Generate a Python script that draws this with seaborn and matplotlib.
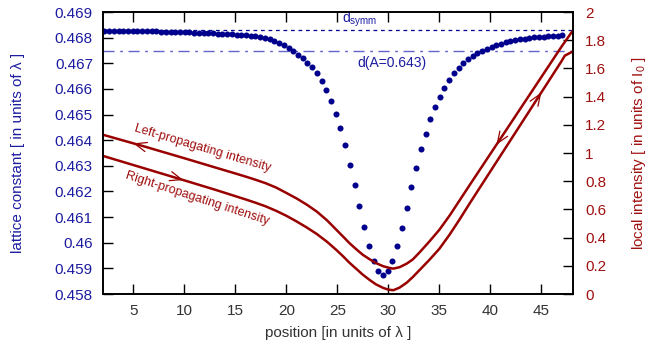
import numpy as np
import pandas as pd
import matplotlib
matplotlib.use("Agg")
import matplotlib.pyplot as plt
import seaborn as sns

# lattice sites: position [lambda] and local lattice constant [lambda]
site_pos = [
    2.16, 2.63, 3.09, 3.55, 4.02, 4.48, 4.94, 5.41, 5.87, 6.33, 6.80, 7.26,
    7.72, 8.18, 8.65, 9.11, 9.57, 10.04, 10.50, 10.96, 11.42,
    11.89, 12.35, 12.81, 13.28, 13.74, 14.20, 14.66, 15.13, 15.59,
    16.05, 16.52, 16.98, 17.44, 17.91, 18.37, 18.83, 19.29, 19.76, 20.22,
    20.68, 21.15, 21.61, 22.07, 22.54, 23.00, 23.46, 23.92, 24.39, 24.85,
    25.31, 25.78, 26.24, 26.70, 27.17, 27.63, 28.09, 28.55, 29.02, 29.48,
    29.94, 30.41, 30.87, 31.33, 31.80, 32.26, 32.72, 33.18, 33.65, 34.11,
    34.57, 35.04, 35.50, 35.96, 36.43, 36.89, 37.35, 37.81, 38.28, 38.74,
    39.20, 39.67, 40.13, 40.59, 41.06, 41.52, 41.98, 42.44, 42.91, 43.37,
    43.83, 44.30, 44.76, 45.22, 45.68, 46.15, 46.61, 47.07,
]
lattice_const = [
    0.46826, 0.46826, 0.46826, 0.46825, 0.46825, 0.46825, 0.46825, 0.46825,
    0.46824, 0.46824, 0.46824, 0.46824,
    0.46823, 0.46823, 0.46823, 0.46822, 0.46822, 0.46821, 0.46821, 0.46820, 0.46819,
    0.46818, 0.46818, 0.46817, 0.46816, 0.46815, 0.46814, 0.46813, 0.46812, 0.46810,
    0.46809, 0.46807, 0.46805, 0.46802, 0.46798, 0.46793, 0.46787, 0.46780, 0.46771, 0.46760,
    0.46748, 0.46734, 0.46719, 0.46703, 0.46684, 0.46661, 0.46631, 0.46596, 0.46552, 0.46504,
    0.46446, 0.46380, 0.46305, 0.46226, 0.46144, 0.46063, 0.45989, 0.45930, 0.45890, 0.45875,
    0.45890, 0.45929, 0.45986, 0.46057, 0.46135, 0.46216, 0.46293, 0.46364, 0.46425, 0.46481,
    0.46529, 0.46570, 0.46605, 0.46635, 0.46661, 0.46682, 0.46700, 0.46716, 0.46728, 0.46739,
    0.46749, 0.46757, 0.46765, 0.46770, 0.46776, 0.46782, 0.46786, 0.46790, 0.46794, 0.46796,
    0.46799, 0.46801, 0.46802, 0.46804, 0.46805, 0.46806, 0.46808, 0.46809,
]

# reference lattice constants
d_symm = 0.46828
d_A = 0.46749

# local intensities [I0]
left_x = [2.0, 6.0, 10.0, 13.0, 15.0, 16.0, 17.0, 18.0, 19.0, 20.0, 21.0, 22.0,
          23.0, 24.0, 24.9, 25.6, 26.2, 26.9, 27.5, 28.2, 28.8, 29.5, 30.1,
          30.5, 31.1, 31.8, 32.4, 33.0, 34.0, 35.0, 36.0, 37.0, 38.0, 39.0,
          40.0, 41.0, 42.0, 43.0, 44.0, 45.0, 46.0, 47.0, 48.08]
left_I = [1.13, 1.048, 0.963, 0.898, 0.855, 0.833, 0.81, 0.785, 0.755, 0.717, 0.678, 0.634,
          0.584, 0.522, 0.456, 0.405, 0.36, 0.315, 0.278, 0.245, 0.219, 0.197, 0.185,
          0.18, 0.19, 0.215, 0.245, 0.29, 0.37, 0.455, 0.555, 0.665, 0.775, 0.884,
          0.993, 1.102, 1.211, 1.32, 1.429, 1.538, 1.647, 1.756, 1.867]

right_x = [2.0, 6.0, 10.0, 13.0, 15.0, 16.0, 17.0, 18.0, 19.0, 20.0, 21.0, 22.0,
           23.0, 24.0, 24.9, 25.6, 26.2, 26.9, 27.5, 28.2, 28.8, 29.5, 30.0,
           30.5, 31.1, 31.8, 32.4, 33.0, 34.0, 35.0, 36.0, 37.0, 38.0, 39.0,
           40.0, 41.0, 42.0, 43.0, 44.0, 45.0, 46.0, 47.0, 47.3, 48.08]
right_I = [0.98, 0.893, 0.806, 0.74, 0.694, 0.671, 0.647, 0.621, 0.59, 0.555, 0.515, 0.472,
           0.425, 0.37, 0.313, 0.265, 0.221, 0.176, 0.137, 0.098, 0.068, 0.043, 0.031,
           0.027, 0.045, 0.08, 0.12, 0.165, 0.24, 0.32, 0.42, 0.53, 0.645, 0.757,
           0.869, 0.981, 1.093, 1.205, 1.317, 1.429, 1.541, 1.653, 1.69, 1.72]

x_ticks = [5, 10, 15, 20, 25, 30, 35, 40, 45]
left_ticks = [0.458, 0.459, 0.46, 0.461, 0.462, 0.463, 0.464, 0.465, 0.466, 0.467, 0.468, 0.469]
left_ticklabels = ["0.458", "0.459", "0.46", "0.461", "0.462", "0.463", "0.464",
                   "0.465", "0.466", "0.467", "0.468", "0.469"]
right_ticks = [0, 0.2, 0.4, 0.6, 0.8, 1, 1.2, 1.4, 1.6, 1.8, 2]
right_ticklabels = ["0", "0.2", "0.4", "0.6", "0.8", "1", "1.2", "1.4", "1.6", "1.8", "2"]

BLUE_DOT = "#00008c"
BLUE_TXT = "#1c1ca0"
BLUE_DASH = "#6464cc"
RED = "#990000"
RED_TXT = "#a01010"

sns.set_theme(style="white")
plt.rcParams["font.family"] = ["Liberation Sans", "DejaVu Sans"]
plt.rcParams["mathtext.fontset"] = "custom"
plt.rcParams["mathtext.rm"] = "Liberation Sans"
plt.rcParams["mathtext.it"] = "Liberation Sans"

fig = plt.figure(figsize=(6.48, 3.5), dpi=100)
ax = fig.add_axes([0.1585, 0.16, 0.7253, 0.8057])
ax2 = ax.twinx()

dots = pd.DataFrame({"position": site_pos, "d": lattice_const})
sns.scatterplot(data=dots, x="position", y="d", ax=ax, color=BLUE_DOT,
                s=19, linewidth=0, zorder=3)

ax.axhline(d_symm, color=BLUE_DOT, lw=0.9, ls=(0, (3, 3)), zorder=2)
ax.axhline(d_A, color=BLUE_DASH, lw=1.0, ls=(0, (8, 4, 2, 4)), zorder=2)
ax.text(25.5, d_symm + 0.00007, r"d$_{\mathrm{symm}}$", color=BLUE_TXT, fontsize=10,
        ha="left", va="bottom")
ax.text(27.0, 0.46701, "d(A=0.643)", color=BLUE_TXT, fontsize=10, ha="left", va="center")

left_df = pd.DataFrame({"position": left_x, "I": left_I})
right_df = pd.DataFrame({"position": right_x, "I": right_I})
sns.lineplot(data=left_df, x="position", y="I", ax=ax2, color=RED, lw=1.8,
             estimator=None, sort=False)
sns.lineplot(data=right_df, x="position", y="I", ax=ax2, color=RED, lw=1.8,
             estimator=None, sort=False)


def direction_arrow(xs, ys, x0, forward):
    # small open arrowhead placed on a curve, pointing along the propagation direction
    y0 = np.interp(x0, xs, ys)
    dx = 0.6
    x1 = x0 + dx if forward else x0 - dx
    y1 = np.interp(x1, xs, ys)
    ax2.annotate("", xy=(x1, y1), xytext=(x0, y0),
                 arrowprops=dict(arrowstyle="->,head_length=0.7,head_width=0.28",
                                 color=RED, lw=0.9, shrinkA=0, shrinkB=0))


direction_arrow(left_x, left_I, 5.6, forward=False)
direction_arrow(right_x, right_I, 9.3, forward=True)
direction_arrow(left_x, left_I, 41.2, forward=False)
direction_arrow(right_x, right_I, 44.4, forward=True)

ax2.text(11.83, 1.035, "Left-propagating intensity", color=RED_TXT, fontsize=9,
         rotation=-16.5, rotation_mode="anchor", ha="center", va="center")
ax2.text(11.29, 0.674, "Right-propagating intensity", color=RED_TXT, fontsize=9,
         rotation=-18, rotation_mode="anchor", ha="center", va="center")

ax.set_xlim(2, 48.08)
ax.set_ylim(0.458, 0.469)
ax2.set_ylim(0, 2)

ax.set_xticks(x_ticks)
ax.set_xticklabels([str(t) for t in x_ticks])
ax.set_yticks(left_ticks)
ax.set_yticklabels(left_ticklabels)
ax2.set_yticks(right_ticks)
ax2.set_yticklabels(right_ticklabels)

ax.tick_params(axis="x", direction="in", length=7, width=1, top=True, bottom=True,
               labelsize=11, pad=7, colors="black", labelcolor="#333333")
ax.tick_params(axis="y", direction="in", length=7, width=1, left=True, right=False,
               labelsize=11, pad=7, colors="black", labelcolor=BLUE_TXT)
ax2.tick_params(axis="y", direction="in", length=7, width=1, right=True,
                labelsize=11, pad=9, colors="black", labelcolor=RED_TXT)

for a in (ax, ax2):
    for sp in a.spines.values():
        sp.set_color("black")
        sp.set_linewidth(1.2)
        sp.set_visible(True)

ax.set_xlabel("position [in units of λ ]", fontsize=11, color="#333333")
ax.set_ylabel("lattice constant [ in units of λ ]", fontsize=11, color=BLUE_TXT)
ax2.set_ylabel(r"local intensity [ in units of I$_0$ ]", fontsize=11, color=RED_TXT)
ax.xaxis.set_label_coords(0.5, -0.115)
ax.yaxis.set_label_coords(-0.165, 0.5)
ax2.yaxis.set_label_coords(1.121, 0.5)

fig.savefig("out.png", dpi=100)
